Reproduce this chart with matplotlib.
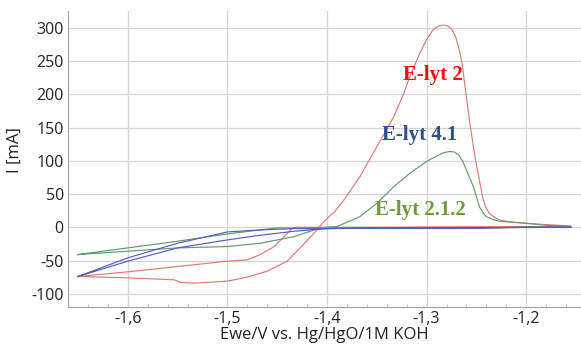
#!/usr/bin/env python3
"""Cyclic voltammograms of three electrolytes, I vs. Ewe (Hg/HgO/1M KOH)."""

import matplotlib
matplotlib.use("Agg")
import matplotlib.pyplot as plt
from matplotlib.ticker import MultipleLocator, FuncFormatter

# ── Data ─────────────────────────────────────────────────────────

# E-lyt 2 (red): lower branch -> peak -> back along zero -> upper branch
red_x = [-1.650, -1.600, -1.553, -1.547, -1.533, -1.500, -1.480, -1.460,
         -1.440, -1.427, -1.413, -1.403, -1.392, -1.383, -1.367, -1.350,
         -1.333, -1.323, -1.317, -1.307, -1.300, -1.294, -1.289, -1.284,
         -1.279, -1.275, -1.271, -1.267, -1.264, -1.262, -1.257, -1.252,
         -1.247, -1.244, -1.241, -1.237, -1.232, -1.227, -1.215, -1.200,
         -1.180, -1.155,
         -1.170, -1.250, -1.350, -1.420, -1.431, -1.435, -1.438, -1.443,
         -1.453, -1.467, -1.480, -1.500, -1.550, -1.600, -1.650]
red_y = [-74, -76, -79, -83, -84, -81, -75, -66,
         -51, -31, -9, 9, 24, 41, 76, 121,
         166, 201, 226, 261, 282, 296, 302, 304,
         303, 298, 287, 266, 243, 218, 161, 111,
         71, 47, 31, 21, 15, 11, 8, 6,
         4, 2,
         1, 1, 0, 0, 0, -2, -6, -14,
         -29, -41, -49, -51, -59, -67, -74]

# E-lyt 2.1.2 (green)
green_x = [-1.650, -1.600, -1.550, -1.500, -1.467, -1.433, -1.413, -1.400,
           -1.390, -1.367, -1.350, -1.333, -1.317, -1.300, -1.290, -1.283,
           -1.277, -1.272, -1.268, -1.264, -1.260, -1.253, -1.247, -1.243,
           -1.240, -1.234, -1.227, -1.200, -1.180, -1.155,
           -1.170, -1.250, -1.350, -1.450, -1.467, -1.500, -1.550, -1.600,
           -1.650]
green_y = [-41, -36, -31, -29, -24, -14, -4, 0,
           1, 16, 36, 61, 81, 99, 107, 112,
           114, 113, 109, 100, 86, 61, 31, 21,
           16, 12, 9, 6, 3, 1,
           0, -1, -1, -1, -4, -10, -21, -31,
           -41]

# E-lyt 4.1 (blue)
blue_x = [-1.650, -1.600, -1.550, -1.500, -1.467, -1.433, -1.400, -1.350,
          -1.300, -1.250, -1.200, -1.155,
          -1.200, -1.250, -1.300, -1.350, -1.400, -1.433, -1.467, -1.500,
          -1.550, -1.600, -1.650]
blue_y = [-74, -51, -31, -19, -12, -6, -2, -1,
          -1, -1, 0, 0,
          0, -1, -1, -1, -2, -2, -4, -7,
          -24, -46, -74]

series = [
    (red_x, red_y, "#e07a76"),
    (green_x, green_y, "#63996b"),
    (blue_x, blue_y, "#5560bb"),
]

labels = [
    ("E-lyt 2", -1.294, 229, "#f01010"),
    ("E-lyt 4.1", -1.3065, 138, "#2e4f8a"),
    ("E-lyt 2.1.2", -1.3065, 26, "#6e9a3c"),
]

# ── Figure ───────────────────────────────────────────────────────

fig = plt.figure(figsize=(5.81, 3.47), dpi=100)
ax = fig.add_axes([0.117, 0.115, 0.883, 0.853])

for x, y, color in series:
    ax.plot(x, y, color=color, linewidth=0.85)

for text, x, y, color in labels:
    ax.text(x, y, text, color=color, fontsize=15, fontweight="bold",
            family="Liberation Serif", ha="center", va="center")

ax.set_xlim(-1.66, -1.145)
ax.set_ylim(-120, 325)
ax.xaxis.set_major_locator(MultipleLocator(0.1))
ax.xaxis.set_minor_locator(MultipleLocator(0.02))
ax.yaxis.set_major_locator(MultipleLocator(50))
ax.xaxis.set_major_formatter(FuncFormatter(lambda v, p: f"{v:.1f}".replace(".", ",")))
ax.yaxis.set_major_formatter(FuncFormatter(lambda v, p: f"{v:.0f}"))

ax.grid(True, which="major", color="#d4d4d4", linewidth=0.9)
ax.set_axisbelow(True)

for side in ("top", "right"):
    ax.spines[side].set_visible(False)
for side in ("left", "bottom"):
    ax.spines[side].set_color("#9aa0c8")
    ax.spines[side].set_linewidth(0.8)

ax.tick_params(axis="both", which="major", length=0, labelsize=11.5,
               labelcolor="#222222", pad=3)
ax.tick_params(axis="x", which="minor", direction="in", length=2,
               color="#bbbbbb")
for lbl in ax.get_xticklabels() + ax.get_yticklabels():
    lbl.set_family("Open Sans")

ax.set_xlabel("Ewe/V vs. Hg/HgO/1M KOH", fontsize=12, family="Open Sans",
              color="#222222", labelpad=0)
ax.set_ylabel("I [mA]", fontsize=12, family="Open Sans", color="#222222")
ax.yaxis.set_label_coords(-0.088, 0.53)

fig.savefig("out.png", dpi=100)
